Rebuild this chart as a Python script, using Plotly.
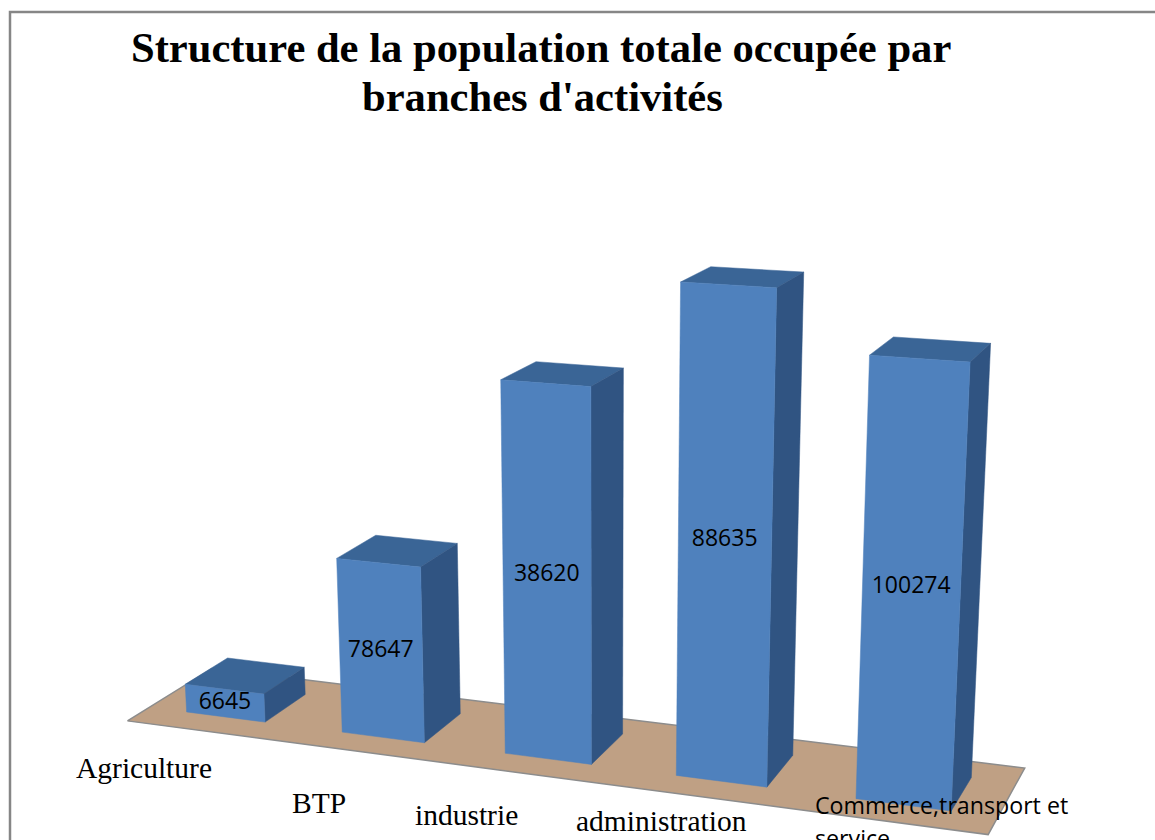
from __future__ import annotations

import math

import plotly.graph_objects as go

TITLE_LINES = ["Structure de la population totale occupée par", "branches d'activités"]
CATEGORIES = ["Agriculture", "BTP", "industrie", "administration", "Commerce,transport et service"]
# printed labels, they do not follow the drawn heights in the source picture
BAR_LABELS = ["6645", "78647", "38620", "88635", "100274"]
# drawn heights, as % of the camera height
BAR_HEIGHTS = [3.55, 21.4, 44.0, 56.1, 49.6]

FRONT_COLOR = "#4f81bd"
TOP_COLOR = "#3a6596"
SIDE_COLOR = "#305482"
FLOOR_COLOR = "#bfa084"
EDGE_COLOR = "#8c8c8c"
FRAME_COLOR = "#868686"

WIDTH = 1155
HEIGHT = 840

# pinhole camera of the old spreadsheet 3D chart
FOCAL = 2350
CENTER_X, CENTER_Y = 605, 500
CAMERA_Z = 100
AZIMUTH = math.radians(22.6)
ELEVATION = math.radians(15.4)

RIGHT = (math.cos(AZIMUTH), math.sin(AZIMUTH), 0)
UP = (
    -math.sin(AZIMUTH) * math.sin(ELEVATION),
    math.cos(AZIMUTH) * math.sin(ELEVATION),
    math.cos(ELEVATION),
)
VIEW = (
    -math.sin(AZIMUTH) * math.cos(ELEVATION),
    math.cos(AZIMUTH) * math.cos(ELEVATION),
    -math.sin(ELEVATION),
)


def _dot(a, b):
    return sum(p * q for p, q in zip(a, b))


def project(slot: float, depth: float, height: float) -> tuple[float, float]:
    """Project chart space (category slot, depth 0-1, height) to the page axes."""
    world = (
        -154 + 20.6 * slot - 0.65 * depth,
        221.5 + 1.27 * slot + 20 * depth,
        height - CAMERA_Z,
    )
    distance = _dot(world, VIEW)
    return (
        CENTER_X + FOCAL * _dot(world, RIGHT) / distance,
        CENTER_Y - FOCAL * _dot(world, UP) / distance,
    )


def add_face(figure: go.Figure, corners: list[tuple[float, float, float]], color: str, line=None) -> None:
    points = [project(*corner) for corner in corners]
    points.append(points[0])
    figure.add_trace(
        go.Scatter(
            x=[p[0] for p in points],
            y=[p[1] for p in points],
            mode="lines",
            fill="toself",
            fillcolor=color,
            line=line or {"color": color, "width": 0.5},
            hoverinfo="skip",
            showlegend=False,
        )
    )


fig = go.Figure()

add_face(
    fig,
    [(0, 0, 0), (len(CATEGORIES), 0, 0), (len(CATEGORIES), 1, 0), (0, 1, 0)],
    FLOOR_COLOR,
    {"color": EDGE_COLOR, "width": 1.5},
)

HALF_WIDTH = 0.255
for index, bar_height in enumerate(BAR_HEIGHTS):
    left = index + 0.5 - HALF_WIDTH
    right = index + 0.5 + HALF_WIDTH
    front = 0.25
    back = 0.76
    add_face(fig, [(left, front, bar_height), (right, front, bar_height), (right, back, bar_height), (left, back, bar_height)], TOP_COLOR)
    add_face(fig, [(right, front, 0), (right, back, 0), (right, back, bar_height), (right, front, bar_height)], SIDE_COLOR)
    add_face(fig, [(left, front, 0), (right, front, 0), (right, front, bar_height), (left, front, bar_height)], FRONT_COLOR)

label_points = [project(index + 0.5, 0.25, bar_height / 2) for index, bar_height in enumerate(BAR_HEIGHTS)]
fig.add_trace(
    go.Scatter(
        x=[p[0] for p in label_points],
        y=[p[1] for p in label_points],
        mode="text",
        text=BAR_LABELS,
        textposition="middle center",
        textfont={"family": "Open Sans", "size": 23, "color": "#000000"},
        hoverinfo="skip",
        showlegend=False,
    )
)


def add_text(text: str, x: float, y: float, family: str, size: float, bold: bool = False, anchor: str = "center") -> None:
    fig.add_annotation(
        x=x,
        y=y,
        xref="x",
        yref="y",
        text=f"<b>{text}</b>" if bold else text,
        showarrow=False,
        xanchor=anchor,
        yanchor="middle",
        font={"family": family, "size": size, "color": "#000000"},
    )


add_text(TITLE_LINES[0], 541, 47, "Liberation Serif", 42.6, bold=True)
add_text(TITLE_LINES[1], 542, 96, "Liberation Serif", 42.6, bold=True)

add_text(CATEGORIES[0], 144, 768, "Liberation Serif", 29.5)
add_text(CATEGORIES[1], 319, 803, "Liberation Serif", 29.5)
add_text(CATEGORIES[2], 466, 815, "Liberation Serif", 29.5)
add_text(CATEGORIES[3], 661, 821, "Liberation Serif", 29.5)
commerce, service = CATEGORIES[4].rsplit(" ", 1)
add_text(commerce, 813, 805, "Open Sans", 23.2, anchor="left")
add_text(service, 813, 838, "Open Sans", 23.2, anchor="left")

fig.add_shape(
    type="rect",
    xref="x",
    yref="y",
    x0=10,
    y0=12,
    x1=WIDTH + 10,
    y1=HEIGHT + 10,
    line={"color": FRAME_COLOR, "width": 2.5},
    layer="below",
)

fig.update_layout(
    width=WIDTH,
    height=HEIGHT,
    margin={"l": 0, "r": 0, "t": 0, "b": 0},
    paper_bgcolor="#ffffff",
    plot_bgcolor="#ffffff",
    showlegend=False,
)
fig.update_xaxes(range=[0, WIDTH], visible=False, fixedrange=True)
fig.update_yaxes(range=[HEIGHT, 0], visible=False, fixedrange=True)

fig.write_html("out.html", post_script="document.body.style.margin='0';", config={"displayModeBar": False})
